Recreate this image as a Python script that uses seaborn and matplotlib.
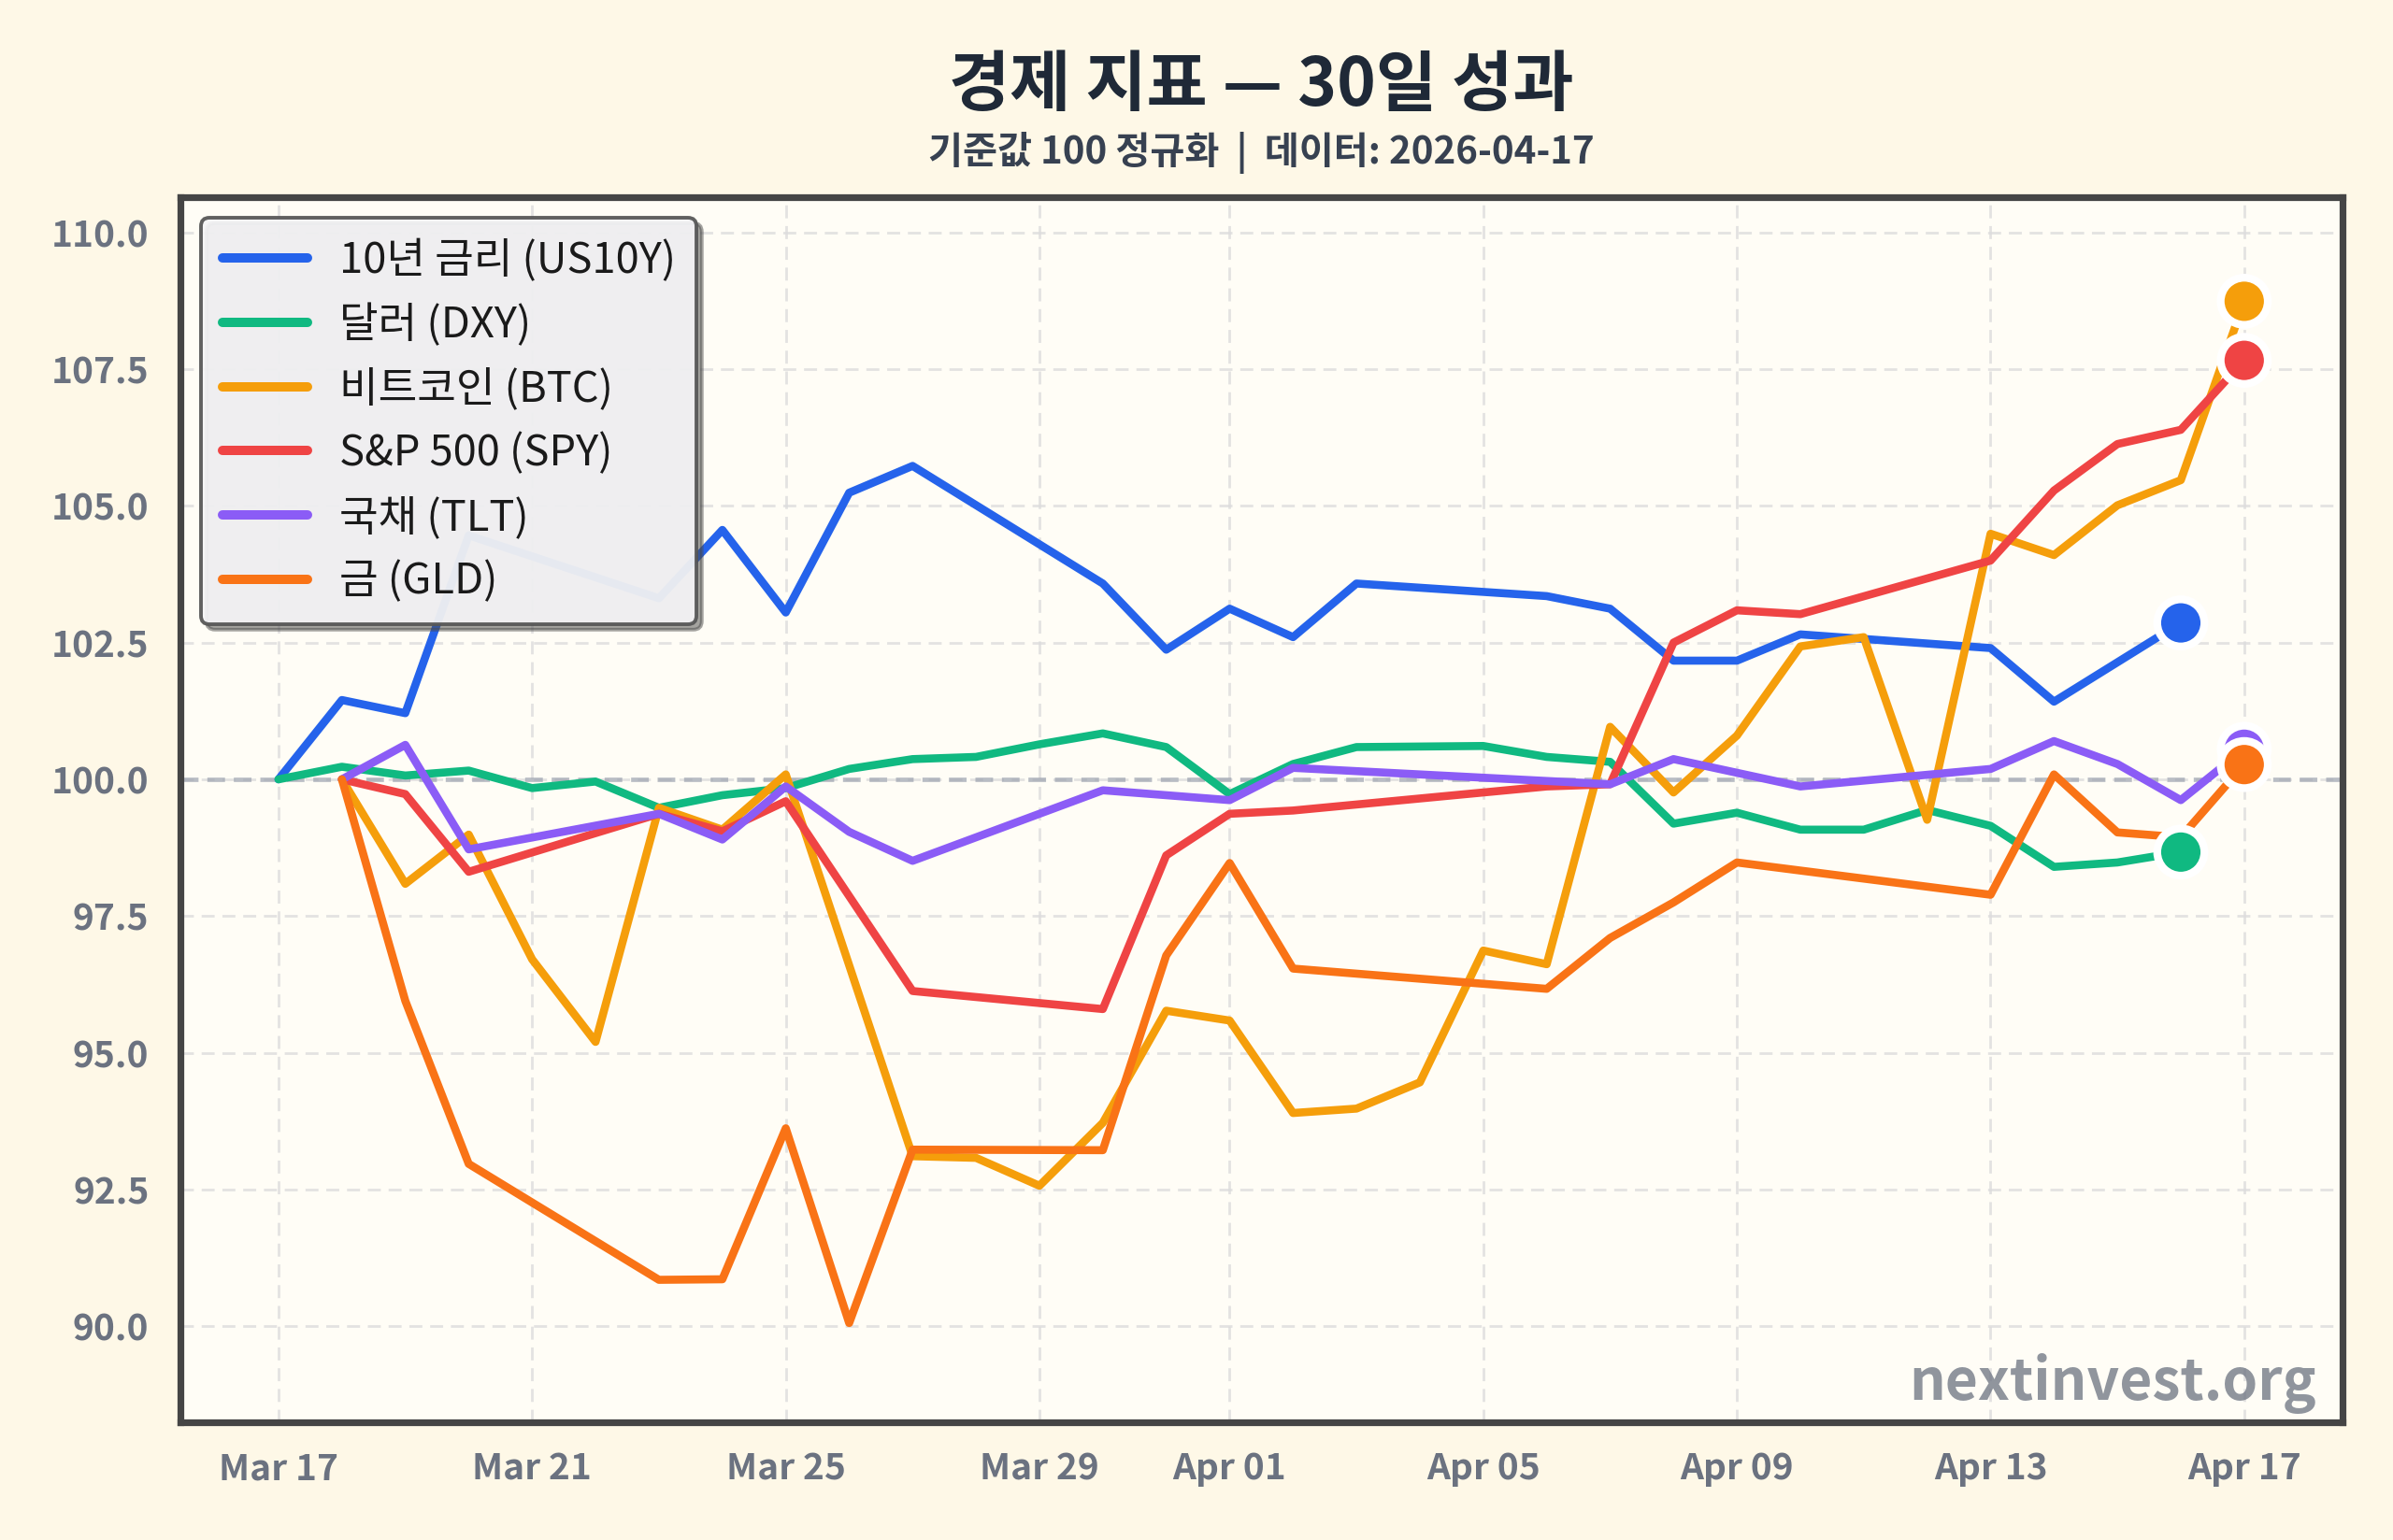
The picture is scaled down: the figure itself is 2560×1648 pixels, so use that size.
import matplotlib
matplotlib.use('Agg')
import matplotlib.pyplot as plt
import matplotlib.dates as mdates
import seaborn as sns
import pandas as pd

# ---------------- data ----------------
series_names = ['10년 금리 (US10Y)', '달러 (DXY)', '비트코인 (BTC)', 'S&P 500 (SPY)', '국채 (TLT)', '금 (GLD)']
series_colors = ['#2563eb', '#10b981', '#f59e0b', '#ef4444', '#8b5cf6', '#f97316']

us10y_dates = ['2026-03-17', '2026-03-18', '2026-03-19', '2026-03-20', '2026-03-23', '2026-03-24',
               '2026-03-25', '2026-03-26', '2026-03-27', '2026-03-30', '2026-03-31', '2026-04-01',
               '2026-04-02', '2026-04-03', '2026-04-06', '2026-04-07', '2026-04-08', '2026-04-09',
               '2026-04-10', '2026-04-13', '2026-04-14', '2026-04-16']
us10y_values = [100.0, 101.45, 101.21, 104.46, 103.31, 104.56,
                103.05, 105.24, 105.73, 103.58, 102.37, 103.12,
                102.60, 103.58, 103.35, 103.12, 102.17, 102.17,
                102.65, 102.40, 101.42, 102.86]

dxy_dates = ['2026-03-17', '2026-03-18', '2026-03-19', '2026-03-20', '2026-03-21', '2026-03-22',
             '2026-03-23', '2026-03-24', '2026-03-25', '2026-03-26', '2026-03-27', '2026-03-28',
             '2026-03-29', '2026-03-30', '2026-03-31', '2026-04-01', '2026-04-02', '2026-04-03',
             '2026-04-05', '2026-04-06', '2026-04-07', '2026-04-08', '2026-04-09', '2026-04-10',
             '2026-04-11', '2026-04-12', '2026-04-13', '2026-04-14', '2026-04-15', '2026-04-16']
dxy_values = [100.0, 100.23, 100.07, 100.16, 99.84, 99.96,
              99.48, 99.71, 99.84, 100.19, 100.37, 100.41,
              100.64, 100.84, 100.59, 99.73, 100.28, 100.59,
              100.61, 100.41, 100.32, 99.19, 99.39, 99.08,
              99.08, 99.44, 99.15, 98.40, 98.48, 98.67]

btc_dates = ['2026-03-18', '2026-03-19', '2026-03-20', '2026-03-21', '2026-03-22', '2026-03-23',
             '2026-03-24', '2026-03-25', '2026-03-27', '2026-03-28', '2026-03-29', '2026-03-30',
             '2026-03-31', '2026-04-01', '2026-04-02', '2026-04-03', '2026-04-04', '2026-04-05',
             '2026-04-06', '2026-04-07', '2026-04-08', '2026-04-09', '2026-04-10', '2026-04-11',
             '2026-04-12', '2026-04-13', '2026-04-14', '2026-04-15', '2026-04-16', '2026-04-17']
btc_values = [100.0, 98.09, 98.99, 96.71, 95.20, 99.48,
              99.08, 100.09, 93.11, 93.08, 92.57, 93.72,
              95.77, 95.59, 93.90, 93.98, 94.46, 96.87,
              96.62, 100.96, 99.76, 100.80, 102.43, 102.60,
              99.26, 104.49, 104.10, 105.01, 105.47, 108.74]

spy_dates = ['2026-03-18', '2026-03-19', '2026-03-20', '2026-03-23', '2026-03-24', '2026-03-25',
             '2026-03-27', '2026-03-30', '2026-03-31', '2026-04-01', '2026-04-02', '2026-04-06',
             '2026-04-07', '2026-04-08', '2026-04-09', '2026-04-10', '2026-04-13', '2026-04-14',
             '2026-04-15', '2026-04-16', '2026-04-17']
spy_values = [100.0, 99.73, 98.31, 99.37, 99.05, 99.60,
              96.13, 95.80, 98.61, 99.37, 99.43, 99.87,
              99.91, 102.50, 103.09, 103.02, 104.00, 105.28,
              106.13, 106.39, 107.66]

tlt_dates = ['2026-03-18', '2026-03-19', '2026-03-20', '2026-03-23', '2026-03-24', '2026-03-25',
             '2026-03-26', '2026-03-27', '2026-03-30', '2026-04-01', '2026-04-02', '2026-04-07',
             '2026-04-08', '2026-04-10', '2026-04-13', '2026-04-14', '2026-04-15', '2026-04-16',
             '2026-04-17']
tlt_values = [100.0, 100.63, 98.72, 99.37, 98.90, 99.87,
              99.04, 98.51, 99.80, 99.62, 100.21, 99.91,
              100.37, 99.87, 100.19, 100.70, 100.28, 99.62,
              100.55]

gld_dates = ['2026-03-18', '2026-03-19', '2026-03-20', '2026-03-23', '2026-03-24', '2026-03-25',
             '2026-03-26', '2026-03-27', '2026-03-30', '2026-03-31', '2026-04-01', '2026-04-02',
             '2026-04-06', '2026-04-07', '2026-04-08', '2026-04-09', '2026-04-13', '2026-04-14',
             '2026-04-15', '2026-04-16', '2026-04-17']
gld_values = [100.0, 95.95, 92.97, 90.85, 90.86, 93.62,
              90.06, 93.23, 93.22, 96.78, 98.47, 96.54,
              96.17, 97.10, 97.75, 98.48, 97.89, 100.09,
              99.03, 98.94, 100.27]

y_ticks = [90.0, 92.5, 95.0, 97.5, 100.0, 102.5, 105.0, 107.5, 110.0]

title_text = '경제 지표 — 30일 성과'
subtitle_text = '기준값 100 정규화  |  데이터: 2026-04-17'
watermark_text = 'nextinvest.org'

# ---------------- frame ----------------
all_dates = [us10y_dates, dxy_dates, btc_dates, spy_dates, tlt_dates, gld_dates]
all_values = [us10y_values, dxy_values, btc_values, spy_values, tlt_values, gld_values]
frames = []
for name, d, v in zip(series_names, all_dates, all_values):
    frames.append(pd.DataFrame({'date': pd.to_datetime(d), 'value': v, 'series': name}))
df = pd.concat(frames, ignore_index=True)
last = df.groupby('series', sort=False).tail(1)

# ---------------- style ----------------
sns.set_theme(style='whitegrid')
plt.rcParams['font.family'] = ['Noto Sans CJK KR', 'DejaVu Sans']
plt.rcParams['axes.unicode_minus'] = False

fig_bg = '#FEF8E7'
ax_bg = '#FFFDF6'

ax_left, ax_bottom, ax_w, ax_h = 0.0753, 0.0766, 0.9036, 0.7956
fig = plt.figure(figsize=(12.8, 8.24), dpi=200, facecolor=fig_bg)
ax = fig.add_axes([ax_left, ax_bottom, ax_w, ax_h])
ax.set_facecolor(ax_bg)

palette = dict(zip(series_names, series_colors))
sns.lineplot(data=df, x='date', y='value', hue='series', hue_order=series_names,
             palette=palette, linewidth=3.1, estimator=None, sort=True, ax=ax, zorder=3)

sns.scatterplot(data=last, x='date', y='value', hue='series', hue_order=series_names,
                palette=palette, s=330, edgecolor='white', linewidth=3.0, ax=ax,
                legend=False, zorder=6)

ax.axhline(100, color='#9ca3af', linestyle=(0, (4, 2)), linewidth=1.7, alpha=0.7, zorder=2)

ax.set_ylim(88.25, 110.65)
ax.margins(x=0.05)
ax.set_yticks(y_ticks)
ax.yaxis.set_major_formatter(matplotlib.ticker.FormatStrFormatter('%.1f'))
ax.xaxis.set_major_locator(mdates.DayLocator(bymonthday=[1, 5, 9, 13, 17, 21, 25, 29]))
ax.xaxis.set_major_formatter(mdates.DateFormatter('%b %d'))

ax.grid(True, which='major', color='#dcdcdc', linestyle=(0, (5, 3)), linewidth=1.0, alpha=0.8)
ax.set_axisbelow(True)
ax.set_xlabel('')
ax.set_ylabel('')

for sp in ax.spines.values():
    sp.set_visible(True)
    sp.set_color('#454545')
    sp.set_linewidth(2.6)

ax.tick_params(axis='both', which='major', length=6, width=1.8, color='#6b7280',
               labelsize=14, labelcolor='#6b7280', pad=6)
ax.tick_params(axis='x', pad=5)
for lab in ax.get_xticklabels() + ax.get_yticklabels():
    lab.set_fontweight('bold')

handles, labels = ax.get_legend_handles_labels()
leg = ax.legend(handles, labels, loc='upper left', fontsize=16.3, frameon=True,
                fancybox=True, shadow=True, framealpha=0.93, facecolor='#f5f5f7',
                edgecolor='#555555', borderpad=0.5, labelspacing=0.5, handlelength=2.0,
                handletextpad=0.75)
leg.get_frame().set_linewidth(1.4)
for line in leg.get_lines():
    line.set_linewidth(3.6)
    line.set_solid_capstyle('round')
for t in leg.get_texts():
    t.set_color('#1a1a1a')

ax.text(0.988, 0.018, watermark_text, transform=ax.transAxes, ha='right', va='baseline',
        fontsize=21.8, fontweight='bold', color='#6b7280', alpha=0.75, zorder=7)

center_x = ax_left + ax_w / 2
fig.text(center_x, 0.944, title_text, ha='center', va='center', fontsize=25.5,
         fontweight='bold', color='#1f2937')
fig.text(center_x, 0.901, subtitle_text, ha='center', va='center', fontsize=14.5,
         fontweight='bold', color='#374151')

fig.savefig('out.png', dpi=200, facecolor=fig_bg)
